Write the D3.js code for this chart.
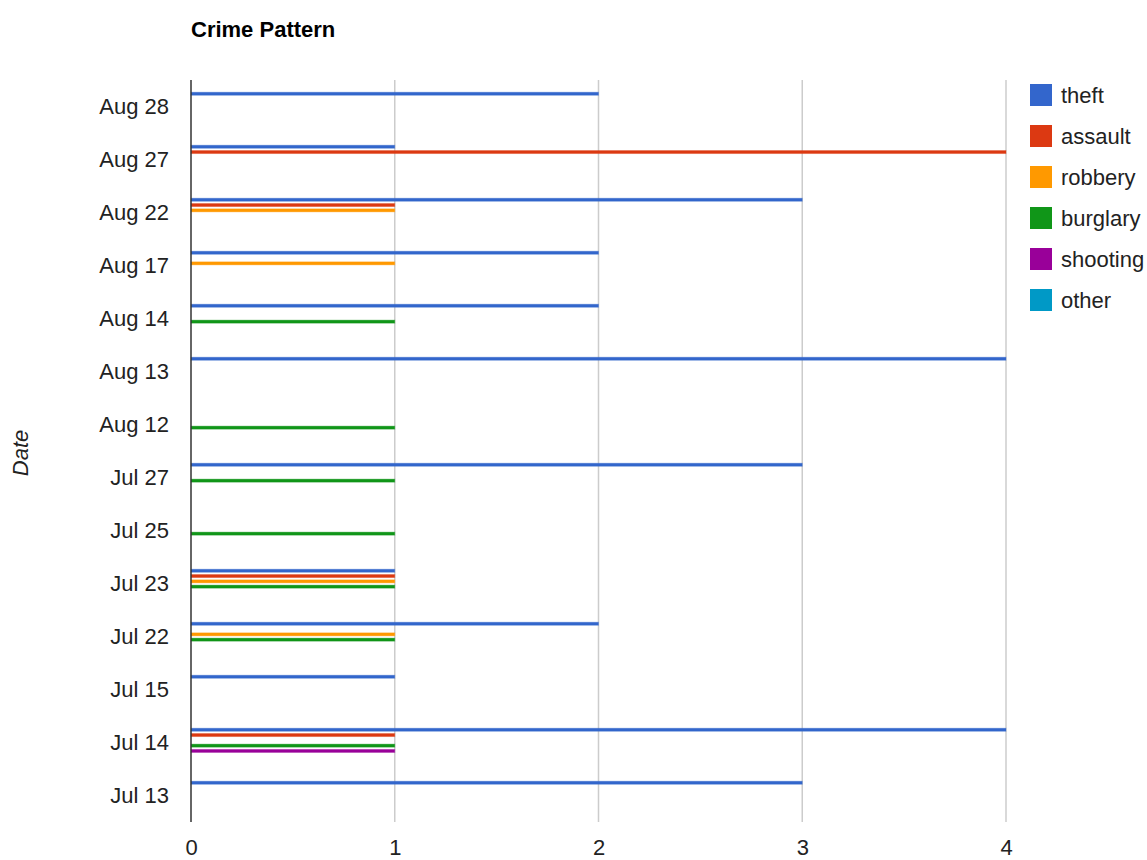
<!DOCTYPE html>
<html>
<head>
<meta charset="utf-8">
<script src="https://cdn.jsdelivr.net/npm/d3@7"></script>
<style>
  html, body { margin: 0; padding: 0; background: #fff; }
  svg { display: block; font-family: "Liberation Sans", Arial, sans-serif; }
</style>
</head>
<body>
<svg id="chart" width="1147" height="860"></svg>
<script>
const categories = ["Aug 28","Aug 27","Aug 22","Aug 17","Aug 14","Aug 13","Aug 12","Jul 27","Jul 25","Jul 23","Jul 22","Jul 15","Jul 14","Jul 13"];
const seriesNames = ["theft","assault","robbery","burglary","shooting","other"];
const seriesColors = ["#3366cc","#dc3912","#ff9900","#109618","#990099","#0099c6"];
const theft    = [2,1,3,2,2,4,0,3,0,1,2,1,4,3];
const assault  = [0,4,1,0,0,0,0,0,0,1,0,0,1,0];
const robbery  = [0,0,1,1,0,0,0,0,0,1,1,0,0,0];
const burglary = [0,0,0,0,1,0,1,1,1,1,1,0,1,0];
const shooting = [0,0,0,0,0,0,0,0,0,0,0,0,1,0];
const other    = [0,0,0,0,0,0,0,0,0,0,0,0,0,0];
const xTicks = [0,1,2,3,4];
const seriesValues = [theft, assault, robbery, burglary, shooting, other];

(function () {
const svg = d3.select("#chart");
const mLeft = 191, mRight = 1006, mTop = 80, mBottom = 822;
const fs = 22;

const x = d3.scaleLinear().domain([0, 4]).range([mLeft, mRight]);
const y0 = d3.scaleBand().domain(categories).range([mTop, mBottom]).paddingInner(0.4).paddingOuter(0.2);
const y1 = d3.scaleBand().domain(seriesNames).range([0, y0.bandwidth()]);

// gridlines
svg.append("g").selectAll("line").data(xTicks.filter(d => d !== 0)).join("line")
  .attr("x1", d => x(d)).attr("x2", d => x(d))
  .attr("y1", mTop).attr("y2", mBottom)
  .attr("stroke", "#cccccc").attr("stroke-width", 1.5);

// bars
const rows = [];
categories.forEach((c, i) => {
  seriesNames.forEach((s, j) => {
    const v = seriesValues[j][i];
    if (v > 0) rows.push({cat: c, s: s, v: v, color: seriesColors[j]});
  });
});
const barH = 3;
svg.append("g").selectAll("rect").data(rows).join("rect")
  .attr("x", x(0))
  .attr("y", d => y0(d.cat) + y1(d.s) + y1.bandwidth() / 2 - barH / 2 + 0.5)
  .attr("width", d => x(d.v) - x(0))
  .attr("height", barH)
  .attr("fill", d => d.color)
  .attr("stroke", d => d.color)
  .attr("stroke-opacity", 0.35)
  .attr("stroke-width", 1);

// axis line at 0
svg.append("line")
  .attr("x1", x(0)).attr("x2", x(0)).attr("y1", mTop).attr("y2", mBottom)
  .attr("stroke", "#333333").attr("stroke-width", 1.5);

// y axis labels
const yAxis = d3.axisLeft(y0).tickSize(0).tickPadding(22);
const gy = svg.append("g").attr("transform", `translate(${mLeft},0)`).call(yAxis);
gy.select(".domain").remove();
gy.selectAll("text").attr("font-size", fs).attr("fill", "#222").attr("font-family", "Liberation Sans, Arial, sans-serif");

// x axis labels
const xAxis = d3.axisBottom(x).tickValues(xTicks).tickFormat(d3.format("d")).tickSize(0).tickPadding(17);
const gx = svg.append("g").attr("transform", `translate(0,${mBottom})`).call(xAxis);
gx.select(".domain").remove();
gx.selectAll("text").attr("font-size", fs).attr("fill", "#222").attr("font-family", "Liberation Sans, Arial, sans-serif");

// title
svg.append("text").attr("x", mLeft).attr("y", 37)
  .attr("font-size", fs).attr("font-weight", "bold").attr("fill", "#000")
  .text("Crime Pattern");

// y title
svg.append("text")
  .attr("transform", "translate(28,453) rotate(-90)")
  .attr("text-anchor", "middle")
  .attr("font-size", fs).attr("font-style", "italic").attr("fill", "#222")
  .text("Date");

// legend
const lg = svg.append("g").selectAll("g").data(seriesNames).join("g")
  .attr("transform", (d, i) => `translate(1030,${84 + i * 41})`);
lg.append("rect").attr("width", 22).attr("height", 22)
  .attr("fill", (d, i) => seriesColors[i]);
lg.append("text").attr("x", 31).attr("y", 19)
  .attr("font-size", fs).attr("fill", "#222").text(d => d);
})();
</script>
</body>
</html>
